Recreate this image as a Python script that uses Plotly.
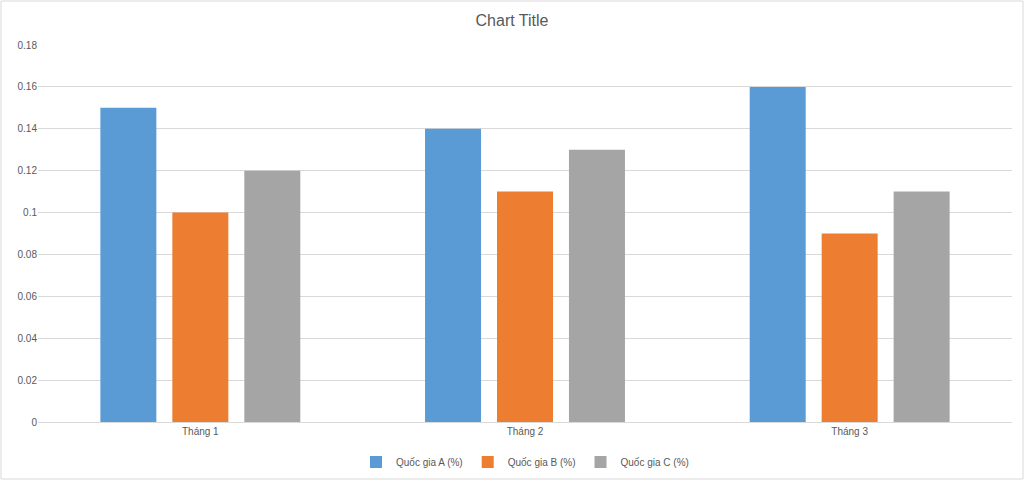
import plotly.graph_objects as go

categories = ["Tháng 1", "Tháng 2", "Tháng 3"]
series_a = [0.15, 0.14, 0.16]
series_b = [0.10, 0.11, 0.09]
series_c = [0.12, 0.13, 0.11]
names = ["Quốc gia A (%)", "Quốc gia B (%)", "Quốc gia C (%)"]
colors = ["#5B9BD5", "#ED7D31", "#A5A5A5"]

fig = go.Figure()
for name, vals, col in zip(names, [series_a, series_b, series_c], colors):
    fig.add_trace(go.Bar(x=categories, y=vals, name=name, marker_color=col,
                         marker_line_width=0))

W, H = 1024, 480
ml, mr, mt, mb = 38, 12, 45, 58
pw, ph = W - ml - mr, H - mt - mb

fig.update_layout(
    width=W, height=H,
    margin=dict(l=ml, r=mr, t=mt, b=mb, autoexpand=False),
    paper_bgcolor="white", plot_bgcolor="white",
    font=dict(family="Liberation Sans, Arial, sans-serif", color="#595959", size=11),
    title=dict(text="Chart Title", x=0.5, xanchor="center", y=1 - 20 / H, yanchor="middle",
               font=dict(size=16, color="#595959")),
    barmode="group", bargap=0.335, bargroupgap=0.222,
    showlegend=True,
    legend=dict(orientation="h", x=0.5, xanchor="center", y=(422 - 462) / ph, yanchor="middle",
                font=dict(size=10, color="#595959"), itemwidth=30, traceorder="normal",
                tracegroupgap=0),
    xaxis=dict(showgrid=False, showline=True, linecolor="#d9d9d9", linewidth=1,
               ticks="", automargin=False, tickfont=dict(size=10, color="#595959")),
    yaxis=dict(range=[0, 0.18], dtick=0.02, showgrid=True, gridcolor="#d9d9d9",
               gridwidth=1, zeroline=False, showline=False, ticks="", automargin=False,
               tickfont=dict(size=10, color="#595959")),
)

fig.add_shape(type="rect", xref="paper", yref="paper",
              x0=(1 - ml) / pw, x1=(W - 1 - ml) / pw,
              y0=(H - mb - (H - 1)) / ph, y1=(H - mb - 1) / ph,
              line=dict(color="#d9d9d9", width=1), layer="below")

fig.write_html("out.html", config={"displayModeBar": False},
               post_script="document.body.style.margin='0';document.body.style.overflow='hidden';")
